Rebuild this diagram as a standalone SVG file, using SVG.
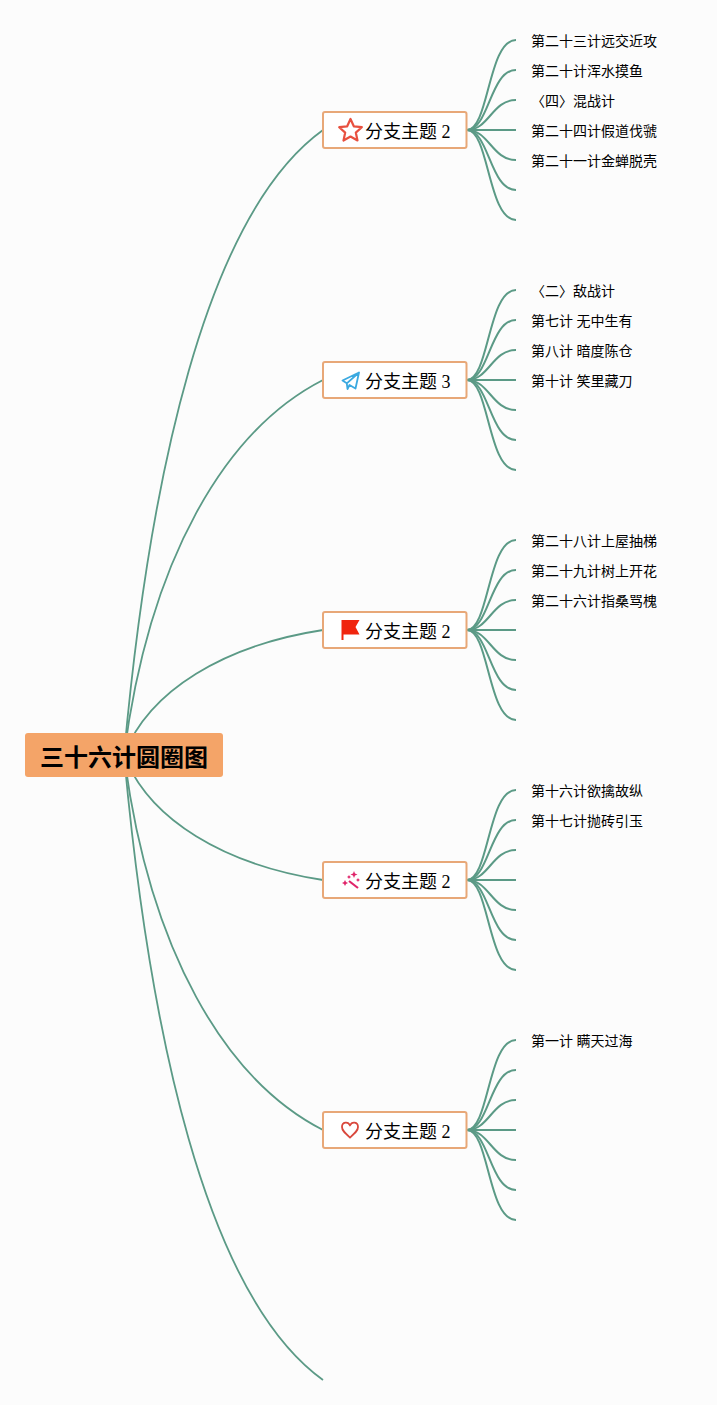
<svg xmlns="http://www.w3.org/2000/svg" xmlns:xlink="http://www.w3.org/1999/xlink" width="717" height="1405" viewBox="0 0 717 1405">
<style>
.c{fill:none;stroke:#5b9a86;stroke-width:2}
.t{fill:#fff;stroke:#e8a878;stroke-width:2}
.tt{font:18px "Liberation Serif","Noto Sans CJK SC",serif;fill:#000}
.l{font:14px "Liberation Serif","Noto Sans CJK SC",serif;fill:#000}
.r{font:bold 24px "Liberation Sans","Noto Sans CJK SC",sans-serif;fill:#000}
</style>
<defs>
<g id="fan" class="c">
<path d="M467 130C489 130 488 40 516 40"/>
<path d="M467 130C489 130 490 70 516 70"/>
<path d="M467 130C489 130 492 100 516 100"/>
<path d="M467 130H516"/>
<path d="M467 130C489 130 492 160 516 160"/>
<path d="M467 130C489 130 490 190 516 190"/>
<path d="M467 130C489 130 488 220 516 220"/>
</g>
</defs>
<rect width="717" height="1405" fill="#fcfcfc"/>
<g id="connectors">
<g class="c" style="stroke-width:1.8">
<path d="M124 755C149 480 205 215 323 130"/>
<path d="M124 755C149 560 225 430 323 380"/>
<path d="M124 755C149 690 225 645 323 630"/>
<path d="M124 755C149 820 225 865 323 880"/>
<path d="M124 755C149 950 225 1080 323 1130"/>
<path d="M124 755C149 1030 205 1295 323 1380"/>
</g>
<use xlink:href="#fan" href="#fan"/>
<use xlink:href="#fan" href="#fan" y="250"/>
<use xlink:href="#fan" href="#fan" y="500"/>
<use xlink:href="#fan" href="#fan" y="750"/>
<use xlink:href="#fan" href="#fan" y="1000"/>
</g>
<g id="root"><rect x="25" y="733" width="198" height="44" rx="3" fill="#f4a468"/><text class="r" x="40" y="766">三十六计圆圈图</text></g>
<g id="topic1"><rect class="t" x="323" y="112" width="143.500" height="36" rx="2"/>
<path d="M350.500 119L353.800 126.300L361.800 127.200L355.800 132.600L357.500 140.500L350.500 136.500L343.500 140.500L345.200 132.600L339.200 127.200L347.200 126.300Z" fill="none" stroke="#e8503f" stroke-width="2.200" stroke-linejoin="round"/>
<text class="tt" x="365" y="138">分支主题 2</text></g>
<g id="topic2"><rect class="t" x="323" y="362" width="143.500" height="36" rx="2"/>
<path d="M342.500 380.500L359 372.500L355.500 388.500L349.500 385L347.500 389L346.800 383.300ZM346.800 383.300L359 372.500" fill="none" stroke="#3ba9e0" stroke-width="1.800" stroke-linejoin="round"/>
<text class="tt" x="365" y="388">分支主题 3</text></g>
<g id="topic3"><rect class="t" x="323" y="612" width="143.500" height="36" rx="2"/>
<path d="M342 620H359.500L355.500 627L359.500 634.500H343.500V640H341.500V620Z" fill="#f0250e"/>
<text class="tt" x="365" y="638">分支主题 2</text></g>
<g id="topic4"><rect class="t" x="323" y="862" width="143.500" height="36" rx="2"/>
<path d="M349 881L358 888" stroke="#e0246a" stroke-width="2.200" fill="none"/>
<path d="M354 871l1 2.500 2.500 1-2.500 1-1 2.500-1-2.500-2.500-1 2.500-1zM345 880l1 2 2 1-2 1-1 2-1-2-2-1 2-1zM349 875l.7 1.300 1.300.7-1.300.7-.7 1.300-.7-1.300-1.300-.7 1.300-.7zM358 878l.7 1.300 1.300.7-1.300.7-.7 1.300-.7-1.300-1.300-.7 1.300-.7z" fill="#e0246a"/>
<text class="tt" x="365" y="888">分支主题 2</text></g>
<g id="topic5"><rect class="t" x="323" y="1112" width="143.500" height="36" rx="2"/>
<path d="M350 1137.500C345 1133 342 1130.500 342 1127C342 1122 348 1121 350 1125.500C352 1121 358 1122 358 1127C358 1130.500 355 1133 350 1137.500Z" fill="none" stroke="#d9473c" stroke-width="1.800" stroke-linejoin="round"/>
<text class="tt" x="365" y="1138">分支主题 2</text></g>
<g id="leaves" class="l">
<text x="531" y="46">第二十三计远交近攻</text>
<text x="531" y="76">第二十计浑水摸鱼</text>
<text x="531" y="106">〈四〉混战计</text>
<text x="531" y="136">第二十四计假道伐虢</text>
<text x="531" y="166">第二十一计金蝉脱壳</text>
<text x="531" y="296">〈二〉敌战计</text>
<text x="531" y="326">第七计 无中生有</text>
<text x="531" y="356">第八计 暗度陈仓</text>
<text x="531" y="386">第十计 笑里藏刀</text>
<text x="531" y="546">第二十八计上屋抽梯</text>
<text x="531" y="576">第二十九计树上开花</text>
<text x="531" y="606">第二十六计指桑骂槐</text>
<text x="531" y="796">第十六计欲擒故纵</text>
<text x="531" y="826">第十七计抛砖引玉</text>
<text x="531" y="1046">第一计 瞒天过海</text>
</g>
</svg>
